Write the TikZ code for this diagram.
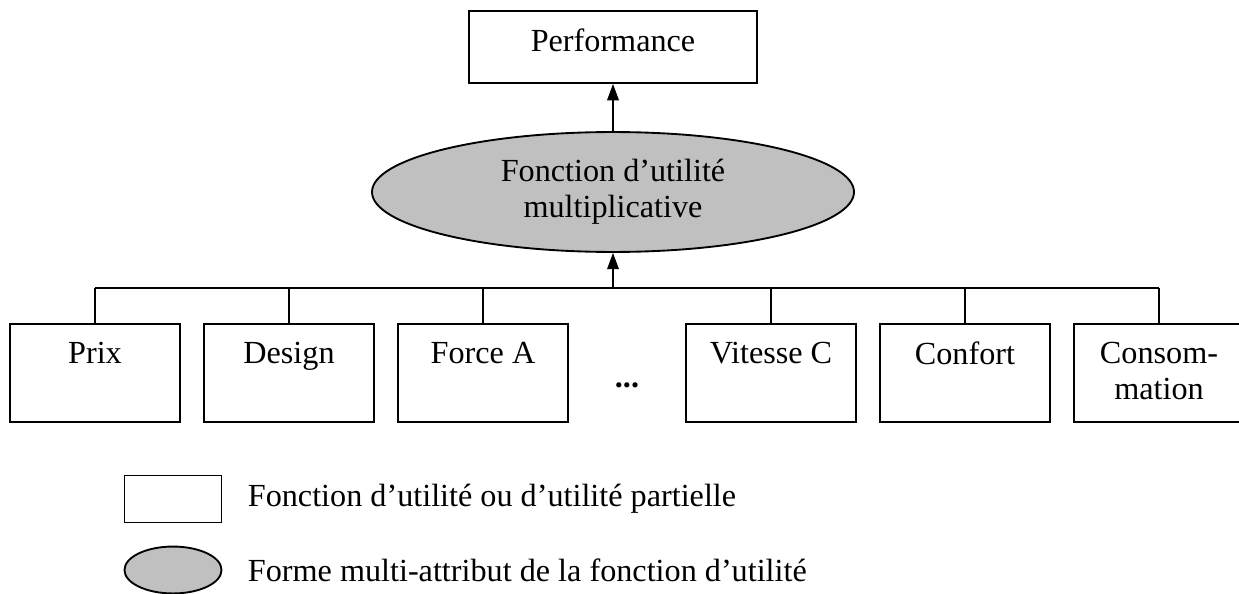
\documentclass[tikz,border=0pt,12pt]{standalone}
\usepackage{fontspec}
\setmainfont{Liberation Serif}
\usetikzlibrary{arrows.meta,shapes.geometric,positioning}
\definecolor{gris}{RGB}{192,192,192}

\begin{document}
\begin{tikzpicture}[x=0.4286pt, y=-0.4286pt, >={Triangle[width=5pt,length=7pt]},
  font=\fontsize{13.8}{15.5}\selectfont,
  boite/.style={draw, line width=0.8pt, minimum width=72.9pt, minimum height=42pt, inner sep=0pt},
  titre/.style={anchor=north, inner sep=0pt, align=center, yshift=-8pt},
  forme/.style={ellipse, draw, line width=0.8pt, fill=gris, inner sep=0pt, align=center},
  lien/.style={line width=0.6pt}]

  \useasboundingbox (0,0) rectangle (1239,594);

  % sommet
  \node[boite, minimum width=123.4pt, minimum height=30.9pt] (perf) at (613,47) {};
  \node[titre] at (perf.north) {Performance};
  \node[forme, minimum width=206.6pt, minimum height=51.4pt] (util) at (613,192)
    {Fonction d'utilité\\multiplicative};
  \draw[lien, ->] (util.north) -- (perf.south);

  % attributs
  \coordinate (bus) at (613,288);
  \foreach \x/\nom/\txt in {95/prix/Prix, 289/design/Design, 483/force/Force A,
                           771/vitesse/Vitesse C, 965/confort/Confort, 1159/conso/{Consom-\\mation}} {
    \node[boite] (\nom) at (\x,373) {};
    \node[titre] at (\nom.north) {\txt};
    \draw[lien] (\nom.north) -- (\nom.north |- bus);
  }
  \draw[lien] (prix.north |- bus) -- (conso.north |- bus);
  \draw[lien, ->] (bus) -- (util.south);

  % points de suspension
  \node (dots) at (627,385) {\textbf{...}};

  % légende
  \node[boite, minimum width=41.6pt, minimum height=20.1pt] (legboite) at (173,499) {};
  \node[forme, minimum width=41.6pt, minimum height=20.1pt] (legforme) at (173,570) {};
  \node[right=10.7pt of legboite, inner sep=0pt] (txtboite) {Fonction d'utilité ou d'utilité partielle};
  \node[right=10.7pt of legforme, inner sep=0pt] (txtforme) {Forme multi-attribut de la fonction d'utilité};

\end{tikzpicture}
\end{document}
